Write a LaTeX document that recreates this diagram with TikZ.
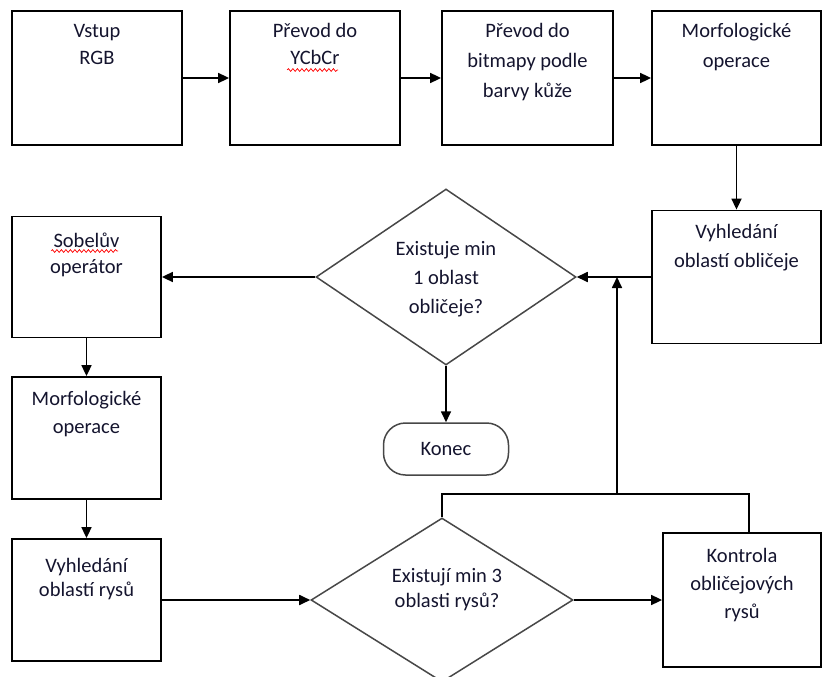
\documentclass[tikz,border=0pt]{standalone}
\usepackage{fontspec}
\setmainfont{Carlito}
\usetikzlibrary{shapes.geometric,arrows.meta,decorations.pathmorphing}
\newcommand{\mlines}[1]{\begin{tabular}[t]{@{}c@{}}#1\end{tabular}}
\definecolor{dgray}{rgb}{0.28,0.28,0.28}
\definecolor{txtc}{rgb}{0.08,0.08,0.18}
\begin{document}
\begin{tikzpicture}[x=1pt,y=-1pt,
 box/.style={draw=black, line width=1.8pt, rectangle, inner sep=0pt},
 dia/.style={draw=dgray, line width=1.5pt, diamond, inner sep=0pt},
 term/.style={draw=dgray, line width=1.5pt, rectangle, rounded corners=22pt, inner sep=0pt, text=txtc, font=\fontsize{20.5}{26}\selectfont},
 txt/.style={inner sep=0pt, anchor=base, text=txtc, font=\fontsize{20.5}{#1}\selectfont},
 txt/.default=26,
 arr/.style={line width=1.7pt, -{Triangle[length=11pt,width=10pt]}},
 ln/.style={line width=1.7pt},
 squig/.style={draw=red, line width=0.7pt, decorate, decoration={snake, amplitude=1.4pt, segment length=4.5pt}}
]
\useasboundingbox (0,0) rectangle (822,677);
\clip (0,0) rectangle (822,677);

% boxes
\node[box, minimum width=170pt, minimum height=134pt] (b1) at (97,78) {};
\node[box, minimum width=170pt, minimum height=134pt] (b2) at (315,78) {};
\node[box, minimum width=171pt, minimum height=134pt] (b3) at (527.5,78) {};
\node[box, minimum width=169pt, minimum height=134pt] (b4) at (736.5,78) {};
\node[box, minimum width=169pt, minimum height=133pt] (b5) at (736.5,277) {};
\node[dia, minimum width=260pt, minimum height=176pt] (d1) at (446,277) {};
\node[box, minimum width=149pt, minimum height=121pt] (sob) at (86.5,277) {};
\node[box, minimum width=149pt, minimum height=122pt] (m2) at (86.5,438) {};
\node[box, minimum width=149pt, minimum height=122pt] (vr) at (86.5,600) {};
\node[dia, minimum width=262pt, minimum height=164pt] (d2) at (442,600) {};
\node[term, minimum width=125pt, minimum height=52pt] (konec) at (446,449) {Konec};
\node[box, minimum width=158pt, minimum height=134pt] (kon) at (742,600) {};

% texts
\node[txt=26] (t1) at (97,38) {\mlines{Vstup\\RGB}};
\node[txt=26] (t2) at (315,38) {\mlines{Převod do\\YCbCr}};
\node[txt=29.5] (t3) at (527.5,38) {\mlines{Převod do\\bitmapy podle\\barvy kůže}};
\node[txt=29.5] (t4) at (736.5,38) {\mlines{Morfologické\\operace}};
\node[txt=29] (t5) at (736.5,238) {\mlines{Vyhledání\\oblastí obličeje}};
\node[txt=29] (td1) at (446,255) {\mlines{Existuje min\\1 oblast\\obličeje?}};
\node[txt=26] (ts) at (86.5,247) {\mlines{Sobelův\\operátor}};
\node[txt=28] (tm) at (86.5,405) {\mlines{Morfologické\\operace}};
\node[txt=24] (tv) at (86.5,572) {\mlines{Vyhledání\\oblastí rysů}};
\node[txt=25] (td2) at (447,582) {\mlines{Existují min 3\\oblasti rysů?}};
\node[txt=28] (tk) at (742,562) {\mlines{Kontrola\\obličejových\\rysů}};

% spell-check squiggles
\draw[squig] (287,70) -- (338,70);
\draw[squig] (51,251) -- (118,251);

% connectors
\draw[arr] (b1) -- (b2);
\draw[arr] (b2) -- (b3);
\draw[arr] (b3) -- (b4);
\draw[arr] (b4.south) -- (b5.north);
\draw[arr] (b5.west) -- (d1.east);
\draw[arr] (d1.west) -- (sob.east);
\draw[arr] (sob) -- (m2);
\draw[arr] (m2) -- (vr);
\draw[arr] (vr) -- (d2);
\draw[arr] (d2) -- (kon);
\draw[arr] (d1.south) -- (konec.north);
\coordinate (jn) at (617,494);
\draw[ln] ([xshift=7pt]kon.north) |- (jn) -| (d2.north);
\draw[arr] (jn) -- (jn |- d1.east);
\end{tikzpicture}
\end{document}
